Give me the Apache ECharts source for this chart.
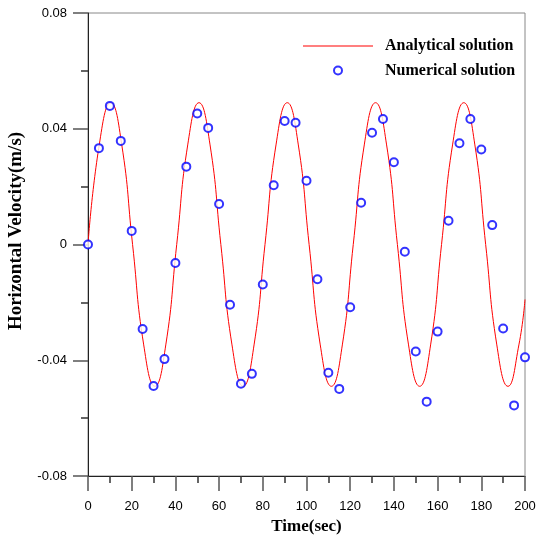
<!DOCTYPE html>
<html>
<head>
<meta charset="utf-8">
<script src="https://cdn.jsdelivr.net/npm/echarts@6/dist/echarts.min.js"></script>
<style>
  html, body { margin: 0; padding: 0; background: #fff; }
  #main { width: 536px; height: 536px; }
</style>
</head>
<body>
<div id="main"></div>
<script>
// analytical solution (zeros, quarter points, peaks)
const anaT = [0, 5.2, 10.4, 15.4, 20.4, 25.5, 30.6, 35.6, 40.6, 45.7, 50.8, 55.8, 60.8, 65.9, 71.0, 76.0,
  81.0, 86.1, 91.2, 96.2, 101.2, 106.3, 111.4, 116.4, 121.4, 126.5, 131.6, 136.6, 141.6, 146.7, 151.8,
  156.8, 161.8, 166.9, 172.0, 177.0, 182.0, 187.1, 192.2, 197.2, 200]
const anaV = [0, 0.0347, 0.049, 0.0347, 0, -0.0347, -0.049, -0.0347, 0, 0.0347, 0.049, 0.0347, 0, -0.0347, -0.049, -0.0347,
  0, 0.0347, 0.049, 0.0347, 0, -0.0347, -0.049, -0.0347, 0, 0.0347, 0.049, 0.0347, 0, -0.0347, -0.049,
  -0.0347, 0, 0.0347, 0.049, 0.0347, 0, -0.0347, -0.049, -0.0347, -0.019]

// numerical solution (circles every 5 sec)
const numT = [0, 5, 10, 15, 20, 25, 30, 35, 40, 45, 50, 55, 60, 65, 70, 75, 80, 85, 90, 95, 100,
  105, 110, 115, 120, 125, 130, 135, 140, 145, 150, 155, 160, 165, 170, 175, 180, 185, 190, 195, 200]
const numV = [0, 0.0333, 0.0479, 0.0358, 0.0047, -0.0292, -0.0489, -0.0396, -0.0064, 0.0269, 0.0453,
  0.0403, 0.014, -0.0208, -0.0481, -0.0447, -0.0138, 0.0205, 0.0427, 0.0421, 0.022,
  -0.012, -0.0443, -0.0499, -0.0217, 0.0144, 0.0386, 0.0434, 0.0284, -0.0025, -0.037,
  -0.0543, -0.0301, 0.0082, 0.035, 0.0434, 0.0328, 0.0067, -0.029, -0.0556, -0.039]

const seriesNames = ['Analytical solution', 'Numerical solution']

const serif = '"Liberation Serif", "Times New Roman", serif'
const sans = '"Liberation Sans", Arial, sans-serif'

const chart = echarts.init(document.getElementById('main'))

const option = {
  animation: false,
  grid: {
    left: 88,
    top: 13,
    right: 11,
    bottom: 60,
    containLabel: false,
    outerBoundsMode: 'none',
    show: true,
    borderColor: '#888',
    borderWidth: 1,
  },
  legend: {
    orient: 'vertical',
    left: 298,
    top: 33,
    itemWidth: 70,
    itemHeight: 8,
    itemGap: 8.5,
    data: [
      // plain thin line, no marker in the middle
      { name: seriesNames[0], icon: 'path://M0,0L70,0L70,1L0,1Z' },
      { name: seriesNames[1] },
    ],
    textStyle: {
      fontFamily: serif,
      fontWeight: 'bold',
      fontSize: 16,
      color: '#000',
      padding: [0, 0, 0, 7],
    },
  },
  xAxis: {
    type: 'value',
    min: 0,
    max: 200,
    interval: 20,
    name: 'Time(sec)',
    nameLocation: 'middle',
    nameGap: 37,
    nameTextStyle: {
      fontFamily: serif,
      fontWeight: 'bold',
      fontSize: 17,
      color: '#000',
    },
    axisLine: { onZero: false, lineStyle: { color: '#222', width: 1 } },
    axisTick: { show: true, inside: false, length: 15, lineStyle: { color: '#555', width: 1.5 } },
    minorTick: { show: true, splitNumber: 2, length: 7, lineStyle: { color: '#333', width: 1.5 } },
    splitLine: { show: false },
    axisLabel: {
      margin: 24,
      fontFamily: sans,
      fontSize: 13,
      color: '#000',
    },
  },
  yAxis: {
    type: 'value',
    min: -0.08,
    max: 0.08,
    interval: 0.04,
    name: 'Horizontal Velocity(m/s)',
    nameLocation: 'middle',
    nameGap: 62,
    nameRotate: 90,
    nameTextStyle: {
      fontFamily: serif,
      fontWeight: 'bold',
      fontSize: 19,
      color: '#000',
      padding: [0, 0, 0, 27],
    },
    axisLine: { show: true, onZero: false, lineStyle: { color: '#222', width: 1 } },
    axisTick: { show: true, inside: false, length: 15, lineStyle: { color: '#555', width: 1.5 } },
    minorTick: { show: true, splitNumber: 2, length: 7, lineStyle: { color: '#333', width: 1.5 } },
    splitLine: { show: false },
    axisLabel: {
      margin: 21,
      fontFamily: sans,
      fontSize: 13,
      color: '#000',
    },
  },
  series: [
    {
      name: seriesNames[0],
      type: 'line',
      data: anaT.map((t, i) => [t, anaV[i]]),
      symbol: 'none',
      smooth: true,
      lineStyle: { color: '#ff0000', width: 1 },
      itemStyle: { color: '#ff0000' },
      z: 2,
    },
    {
      name: seriesNames[1],
      type: 'scatter',
      data: numT.map((t, i) => [t, numV[i]]),
      symbol: 'emptyCircle',
      symbolSize: 8,
      itemStyle: { color: '#0000ff', borderColor: '#0000ff', borderWidth: 1.3 },
      z: 3,
    },
  ],
}

chart.setOption(option)
</script>
</body>
</html>
